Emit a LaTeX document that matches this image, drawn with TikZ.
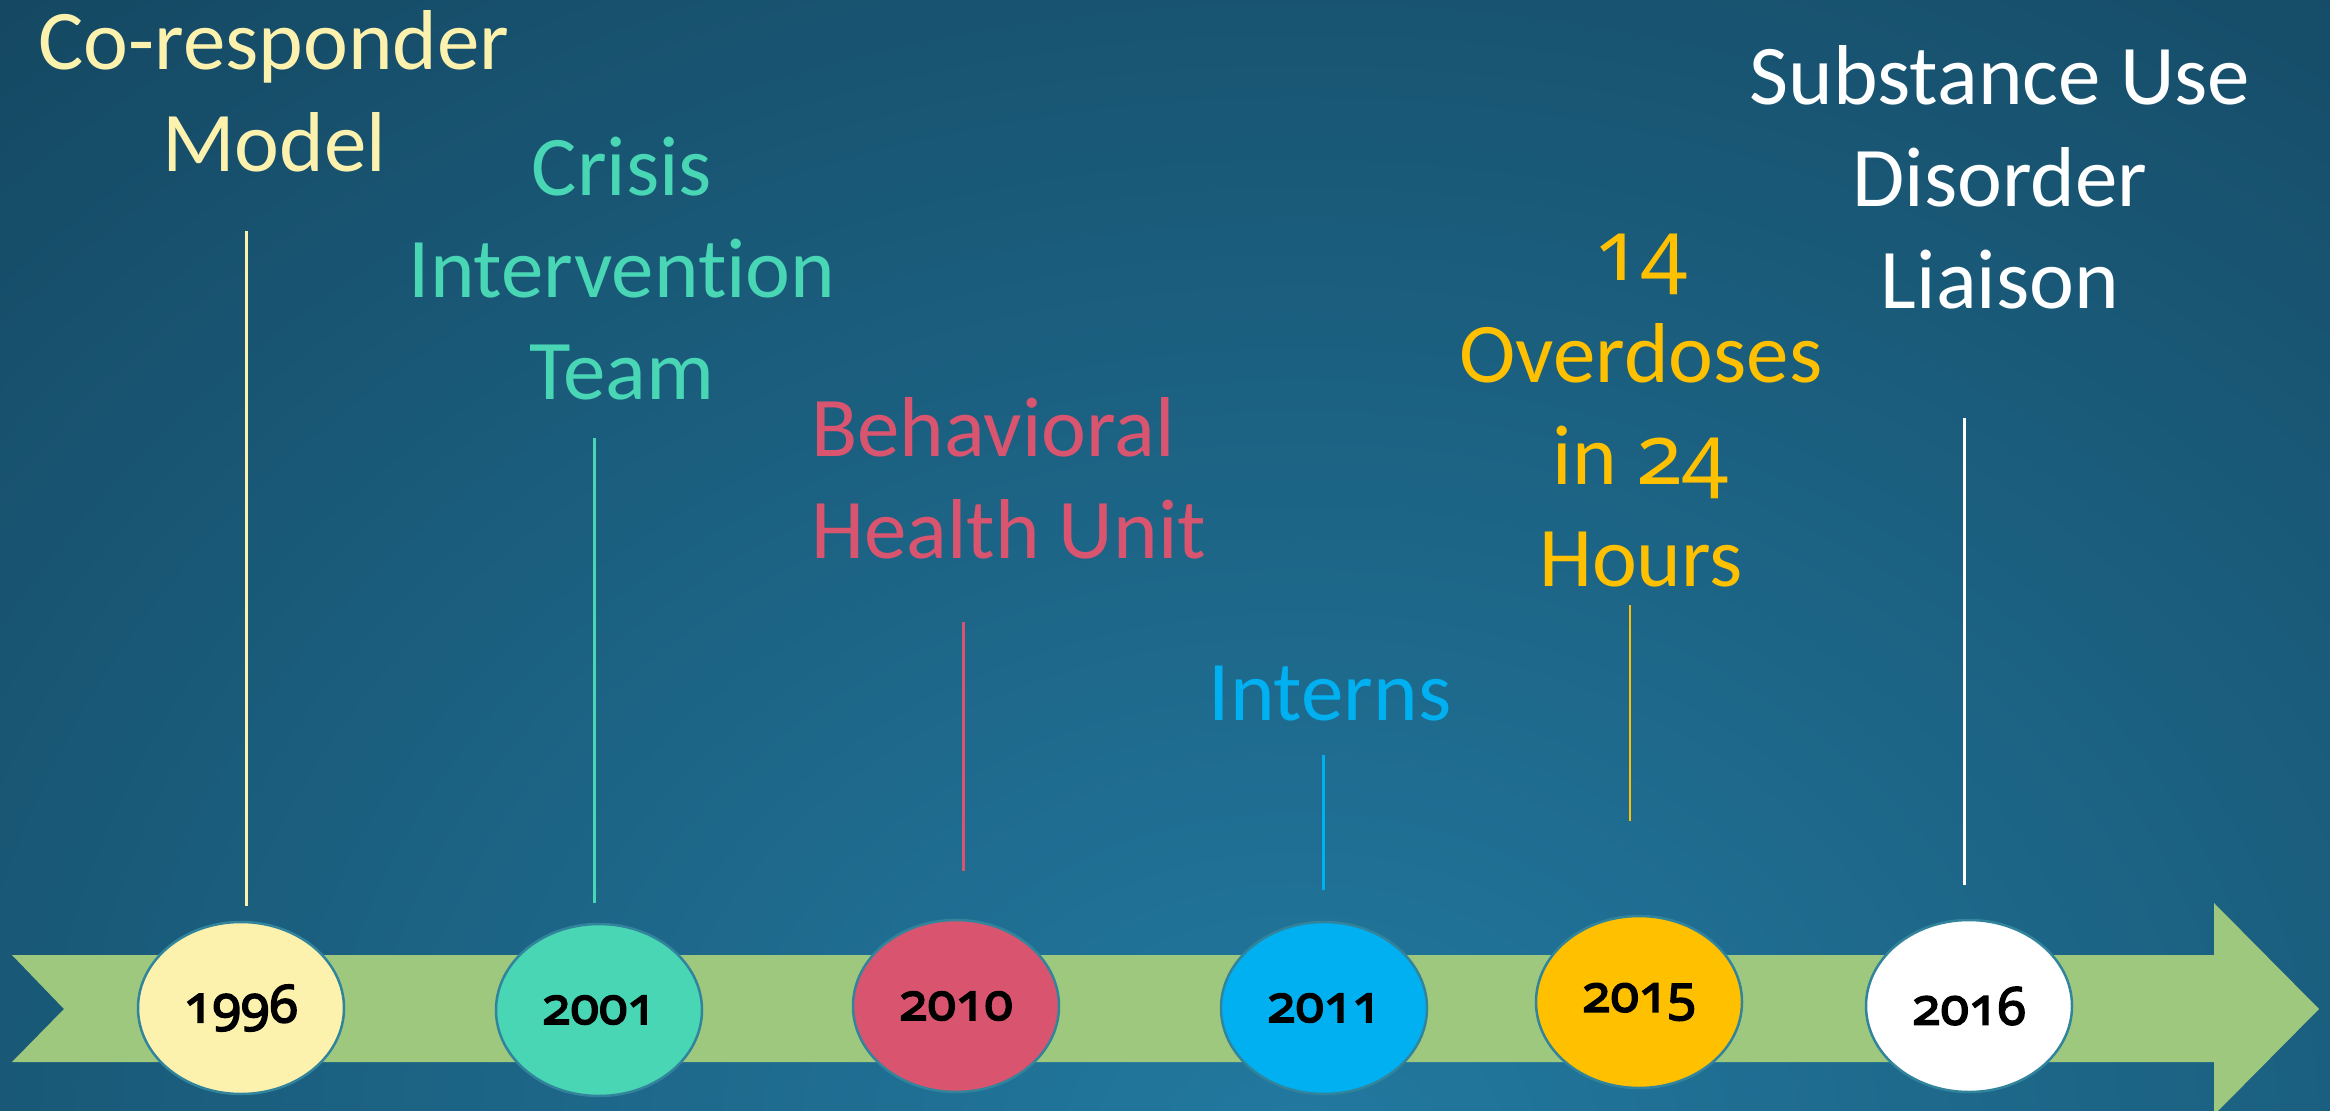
\documentclass[tikz,border=0pt]{standalone}
\usepackage{fontspec}
\setmainfont[Ligatures=NoCommon]{Carlito}
\newfontfamily\digitfont[Numbers=OldStyle]{Noto Sans}
\newfontfamily\yearfont[Numbers=OldStyle, FakeBold=3]{Noto Sans}
\usetikzlibrary{shapes.geometric}
\definecolor{bgdark}{HTML}{0F3348}
\definecolor{bglight}{HTML}{2279A0}
\definecolor{band}{HTML}{9DC87E}
\definecolor{rim}{HTML}{31849B}
\definecolor{cyellow}{HTML}{FCF2AE}
\definecolor{cteal}{HTML}{48D6B5}
\definecolor{cpink}{HTML}{D9556F}
\definecolor{cblue}{HTML}{00B0F0}
\definecolor{corange}{HTML}{FFC000}
\begin{document}
\begin{tikzpicture}[x=1pt,y=-1pt,
  yearnode/.style={ellipse, draw=rim, line width=2.5pt, minimum width=206pt, minimum height=172pt, inner sep=0pt, font=\yearfont\fontsize{52}{60}\selectfont, text=black},
  evtext/.style={font=\fontsize{85}{102}\selectfont, align=center, anchor=base, inner sep=0pt},
  stem/.style={line width=3pt}]
\useasboundingbox (0,0) rectangle (2330,1111);
\fill[bgdark] (0,0) rectangle (2330,1111);
\begin{scope}
\clip (0,0) rectangle (2330,1111);
\shade[inner color=bglight, outer color=bgdark] (1300,1150) ellipse [x radius=2800, y radius=2200];
\end{scope}
% timeline band
\fill[band] (12,955) -- (2214,955) -- (2214,903) -- (2319,1009) -- (2214,1115) -- (2214,1062) -- (12,1062) -- (64,1009) -- cycle;
% year ellipses
\node[yearnode, fill=cyellow] (e1) at (241,1008) {1996};
\node[yearnode, fill=cteal]   (e2) at (599,1010) {2001};
\node[yearnode, fill=cpink]   (e3) at (956,1006) {2010};
\node[yearnode, fill=cblue]   (e4) at (1324,1008) {2011};
\node[yearnode, fill=corange] (e5) at (1639,1002) {2015};
\node[yearnode, fill=white]   (e6) at (1969,1006) {2016};
% labels (anchor = baseline of last line)
\node[evtext, text=cyellow] (l1) at (274,171) {Co-responder\\Model};
\node[evtext, text=cteal]   (l2) at (622,399) {Crisis\\Intervention\\Team};
\node[evtext, text=cpink, anchor=base west, align=left] (l3) at (811,558) {Behavioral\\Health Unit};
\node[evtext, text=cblue]   (l4) at (1330,720) {Interns};
\node[evtext, text=corange] (l5) at (1641,586) {{\digitfont 14}\\Overdoses\\in {\digitfont 24}\\Hours};
\node[evtext, text=white]   (l6) at (2000,308) {Substance Use\\Disorder\\Liaison};
% stems
\coordinate (s1) at (246,231);
\coordinate (s2) at (594,438);
\coordinate (s3) at (963,622);
\coordinate (s4) at (1323,755);
\coordinate (s5) at (1630,605);
\coordinate (s6) at (1964,418);
\draw[stem, cyellow, shorten >=15pt] (s1) -- (s1 |- e1.north);
\draw[stem, cteal, shorten >=20pt] (s2) -- (s2 |- e2.north);
\draw[stem, cpink, shorten >=48pt] (s3) -- (s3 |- e3.north);
\draw[stem, cblue, shorten >=31pt] (s4) -- (s4 |- e4.north);
\draw[stem, corange, line width=1.5pt, shorten >=94pt] (s5) -- (s5 |- e5.north);
\draw[stem, white, shorten >=34pt] (s6) -- (s6 |- e6.north);
\end{tikzpicture}
\end{document}
